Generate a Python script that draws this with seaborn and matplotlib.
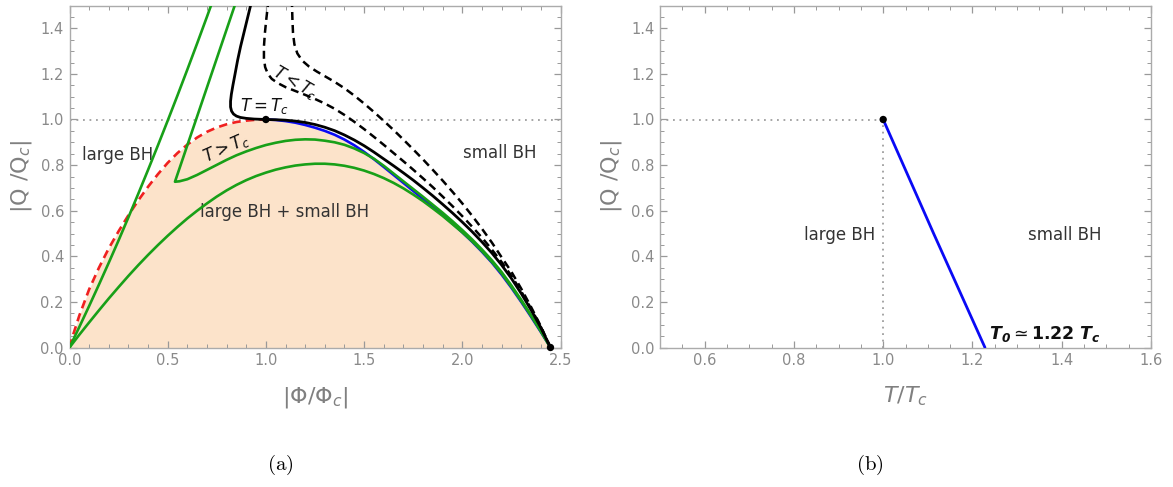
import matplotlib
matplotlib.use("Agg")
import matplotlib.pyplot as plt
from matplotlib.ticker import MultipleLocator
import seaborn as sns

# ---------------- phase diagram in the (|Phi/Phi_c|, |Q/Q_c|) plane ----------------
# spinodal boundary (red dashed), from the origin to the critical point
phi_red = [0.0, 0.02, 0.05, 0.1, 0.15, 0.2, 0.25, 0.3, 0.35, 0.4, 0.45, 0.5, 0.55,
           0.6, 0.65, 0.7, 0.75, 0.8, 0.85, 0.9, 0.95, 1.0]
q_red = [0.0, 0.06, 0.14, 0.255, 0.35, 0.435, 0.51, 0.58, 0.645, 0.705, 0.76, 0.81, 0.853,
         0.89, 0.921, 0.946, 0.965, 0.979, 0.989, 0.995, 0.999, 1.0]

# coexistence line (blue), from the critical point to Phi_0
phi_blue = [1.0, 1.05, 1.1, 1.15, 1.2, 1.25, 1.3, 1.35, 1.4, 1.45, 1.5, 1.55, 1.6, 1.65,
            1.7, 1.75, 1.8, 1.85, 1.9, 1.95, 2.0, 2.05, 2.1, 2.15, 2.2, 2.25, 2.3, 2.35,
            2.4, 2.449]
q_blue = [1.0, 0.998, 0.993, 0.986, 0.976, 0.964, 0.95, 0.933, 0.912, 0.887, 0.858, 0.826,
          0.792, 0.757, 0.722, 0.687, 0.652, 0.617, 0.581, 0.544, 0.505, 0.464, 0.42,
          0.373, 0.32, 0.262, 0.2, 0.135, 0.068, 0.0]

# critical isotherm T = T_c (black solid)
phi_tc = [0.935, 0.922, 0.905, 0.888, 0.871, 0.856, 0.843, 0.832, 0.824, 0.82, 0.82,
          0.825, 0.835, 0.85, 0.87, 0.9, 0.94, 1.0, 1.05, 1.1, 1.15, 1.2, 1.25, 1.3,
          1.35, 1.4, 1.45, 1.5, 1.55, 1.6, 1.65, 1.7, 1.75, 1.8, 1.85, 1.9, 1.95, 2.0,
          2.05, 2.1, 2.15, 2.2, 2.25, 2.3, 2.35, 2.4, 2.449]
q_tc = [1.55, 1.5, 1.44, 1.38, 1.32, 1.26, 1.2, 1.15, 1.11, 1.08, 1.055,
        1.037, 1.024, 1.015, 1.009, 1.005, 1.002, 1.0, 0.999, 0.997, 0.993, 0.987, 0.978,
        0.966, 0.951, 0.932, 0.91, 0.885, 0.857, 0.827, 0.797, 0.766, 0.734, 0.70, 0.665,
        0.628, 0.59, 0.55, 0.508, 0.463, 0.415, 0.362, 0.303, 0.237, 0.165, 0.087, 0.0]

# isotherms below T_c (black dashed)
phi_low1 = [1.015, 1.01, 1.002, 0.995, 0.99, 0.99, 0.996, 1.01, 1.03, 1.06, 1.1, 1.15,
            1.2, 1.25, 1.3, 1.35, 1.4, 1.45, 1.5, 1.55, 1.6, 1.65, 1.7, 1.75, 1.8, 1.85,
            1.9, 1.95, 2.0, 2.05, 2.1, 2.15, 2.2, 2.25, 2.3, 2.35, 2.4, 2.449]
q_low1 = [1.55, 1.5, 1.44, 1.38, 1.32, 1.27, 1.23, 1.2, 1.178, 1.16, 1.142, 1.125,
          1.108, 1.09, 1.07, 1.047, 1.02, 0.99, 0.958, 0.924, 0.889, 0.853, 0.817, 0.78,
          0.742, 0.703, 0.662, 0.62, 0.576, 0.53, 0.482, 0.43, 0.375, 0.314, 0.246, 0.171,
          0.09, 0.0]
phi_low2 = [1.131, 1.133, 1.135, 1.138, 1.145, 1.16, 1.185, 1.22, 1.26, 1.3, 1.35, 1.4,
            1.45, 1.5, 1.55, 1.6, 1.65, 1.7, 1.75, 1.8, 1.85, 1.9, 1.95, 2.0, 2.05, 2.1,
            2.15, 2.2, 2.25, 2.3, 2.35, 2.4, 2.449]
q_low2 = [1.55, 1.5, 1.44, 1.38, 1.33, 1.29, 1.258, 1.232, 1.21, 1.19, 1.165, 1.137,
          1.105, 1.07, 1.033, 0.994, 0.954, 0.912, 0.869, 0.825, 0.779, 0.732, 0.683,
          0.632, 0.578, 0.521, 0.461, 0.396, 0.332, 0.258, 0.178, 0.093, 0.0]

# isotherms above T_c (green)
phi_high_a = [0.0, 0.05, 0.1, 0.15, 0.2, 0.25, 0.3, 0.35, 0.4, 0.45, 0.5, 0.55, 0.6,
              0.65, 0.7, 0.75]
q_high_a = [0.0, 0.09, 0.182, 0.276, 0.372, 0.47, 0.571, 0.674, 0.779, 0.886, 0.995,
            1.106, 1.219, 1.334, 1.451, 1.57]

phi_high_b = [0.861, 0.537, 0.56, 0.6, 0.65, 0.7, 0.75, 0.8, 0.85, 0.9, 0.95, 1.0, 1.05,
              1.1, 1.15, 1.2, 1.25, 1.3, 1.35, 1.4, 1.45, 1.5, 1.55, 1.6, 1.65, 1.7, 1.75,
              1.8, 1.85, 1.9, 1.95, 2.0, 2.05, 2.1, 2.15, 2.2, 2.25, 2.3, 2.35, 2.4, 2.449]
q_high_b = [1.55, 0.727, 0.729, 0.738, 0.757, 0.779, 0.801, 0.823, 0.843, 0.86, 0.875,
            0.888, 0.898, 0.906, 0.911, 0.913, 0.912, 0.907, 0.9, 0.889, 0.873, 0.853,
            0.828, 0.797, 0.763, 0.729, 0.695, 0.661, 0.626, 0.591, 0.554, 0.515, 0.474,
            0.43, 0.383, 0.331, 0.272, 0.209, 0.142, 0.072, 0.0]

phi_high_c = [0.0, 0.05, 0.1, 0.15, 0.2, 0.25, 0.3, 0.35, 0.4, 0.45, 0.5, 0.55, 0.6,
              0.65, 0.7, 0.75, 0.8, 0.85, 0.9, 0.95, 1.0, 1.05, 1.1, 1.15, 1.2, 1.25,
              1.3, 1.35, 1.4, 1.45, 1.5, 1.55, 1.6, 1.65, 1.7, 1.75, 1.8, 1.85, 1.9,
              1.95, 2.0, 2.05, 2.1, 2.15, 2.2, 2.25, 2.3, 2.35, 2.4, 2.449]
q_high_c = [0.0, 0.056, 0.11, 0.163, 0.215, 0.265, 0.314, 0.361, 0.406, 0.449, 0.49,
            0.529, 0.566, 0.6, 0.632, 0.662, 0.689, 0.713, 0.734, 0.752, 0.767, 0.78,
            0.79, 0.798, 0.803, 0.806, 0.806, 0.803, 0.797, 0.788, 0.776, 0.761, 0.743,
            0.722, 0.698, 0.671, 0.642, 0.61, 0.577, 0.541, 0.505, 0.466, 0.423, 0.376,
            0.325, 0.266, 0.204, 0.139, 0.071, 0.0]

# special points: critical point and Phi_0
phi_pts = [1.0, 2.449]
q_pts = [1.0, 0.0]

# ---------------- phase diagram in the (T/T_c, |Q/Q_c|) plane ----------------
t_line = [1.0, 1.113, 1.228]
q_line = [1.0, 0.5, 0.0]
t_crit = [1.0]
q_crit = [1.0]

# ---------------- styling ----------------
sns.set_theme(style="ticks")
plt.rcParams["font.family"] = ["DejaVu Sans"]
plt.rcParams["mathtext.fontset"] = "dejavusans"

PEACH = "#FCE3CA"
GREEN = "#18A018"
BLUE = "#0A0AF5"
RED = "#F02020"
FRAME = "#ABABAB"
TICKLAB = "#8A8A8A"
AXLAB = "#808080"
TEXT = "#333333"
DOTTED = (0, (1.0, 2.6))
DASHED = (0, (3.2, 2.0))

fig = plt.figure(figsize=(11.73, 4.87), dpi=100)
axL = fig.add_axes([69.5 / 1173, 139.5 / 487, 491 / 1173, 342 / 487])
axR = fig.add_axes([660 / 1173, 139.5 / 487, 491 / 1173, 342 / 487])


def frame(ax, xlim, xmaj, xmin):
    ax.set_xlim(*xlim)
    ax.set_ylim(0, 1.5)
    ax.xaxis.set_major_locator(MultipleLocator(xmaj))
    ax.xaxis.set_minor_locator(MultipleLocator(xmin))
    ax.yaxis.set_major_locator(MultipleLocator(0.2))
    ax.yaxis.set_minor_locator(MultipleLocator(0.05))
    ax.tick_params(which="both", direction="in", top=True, right=True,
                   color="#999999", labelcolor=TICKLAB, labelsize=10.5, pad=4)
    ax.tick_params(which="major", length=5, width=0.9)
    ax.tick_params(which="minor", length=2.6, width=0.7)
    for sp in ax.spines.values():
        sp.set_color(FRAME)
        sp.set_linewidth(1.0)
    ax.set_ylabel(r"$|\mathrm{Q}\ /\mathrm{Q}_c|$", fontsize=16, color=AXLAB, labelpad=5)


def curve(ax, x, y, color, ls="-", lw=1.9, z=3):
    sns.lineplot(x=x, y=y, ax=ax, color=color, linestyle=ls, linewidth=lw,
                 sort=False, estimator=None, zorder=z)


# ---- left panel ----
frame(axL, (0, 2.5), 0.5, 0.1)
env_phi = phi_red + phi_blue[1:]
env_q = q_red + q_blue[1:]
axL.fill_between(env_phi, 0, env_q, color=PEACH, lw=0, zorder=0)
axL.axhline(1.0, color="#9E9E9E", ls=DOTTED, lw=1.3, zorder=1)

curve(axL, phi_red, q_red, RED, ls=DASHED, lw=1.9, z=3)
curve(axL, phi_high_a, q_high_a, GREEN, z=4)
curve(axL, phi_high_b, q_high_b, GREEN, z=4)
curve(axL, phi_high_c, q_high_c, GREEN, z=4)
curve(axL, phi_blue, q_blue, BLUE, z=3.5)
curve(axL, phi_tc, q_tc, "black", lw=2.0, z=5)
curve(axL, phi_low1, q_low1, "black", ls=DASHED, lw=1.8, z=5)
curve(axL, phi_low2, q_low2, "black", ls=DASHED, lw=1.8, z=5)
sns.scatterplot(x=phi_pts, y=q_pts, ax=axL, color="black", s=28, zorder=6,
                edgecolor="none", clip_on=False)

axL.text(0.245, 0.844, "large BH", fontsize=12, color=TEXT, ha="center", va="center")
axL.text(2.19, 0.852, "small BH", fontsize=12, color=TEXT, ha="center", va="center")
axL.text(1.097, 0.596, "large BH + small BH", fontsize=12, color=TEXT,
         ha="center", va="center")
axL.text(0.995, 1.06, r"$T=T_c$", fontsize=12, color="#111111", ha="center", va="center")
axL.text(1.15, 1.16, r"$T<T_c$", fontsize=12, color="#111111", ha="center",
         va="center", rotation=-30)
axL.text(0.80, 0.875, r"$T>T_c$", fontsize=12, color="#111111", ha="center",
         va="center", rotation=24)
axL.set_xlabel(r"$|\Phi/\Phi_c|$", fontsize=16, color=AXLAB, labelpad=12)

# ---- right panel ----
frame(axR, (0.5, 1.6), 0.2, 0.05)
axR.plot([0.5, 1.0], [1.0, 1.0], color="#9E9E9E", ls=DOTTED, lw=1.3, zorder=1)
axR.plot([1.0, 1.0], [0.0, 1.0], color="#9E9E9E", ls=DOTTED, lw=1.3, zorder=1)
curve(axR, t_line, q_line, BLUE, lw=2.0)
sns.scatterplot(x=t_crit, y=q_crit, ax=axR, color="black", s=28, zorder=6,
                edgecolor="none")
axR.text(0.902, 0.493, "large BH", fontsize=12, color=TEXT, ha="center", va="center")
axR.text(1.406, 0.493, "small BH", fontsize=12, color=TEXT, ha="center", va="center")
axR.text(1.238, 0.058, r"$\mathbfit{T_0} \simeq \mathbf{1.22}\ \mathbfit{T_c}$",
         fontsize=12.5, color="#111111", ha="left", va="center")
axR.set_xlabel(r"$T/T_c$", fontsize=16, color=AXLAB, labelpad=12)

# ---- panel captions ----
fig.text(280 / 1173, 1 - 465 / 487, r"$\mathrm{(a)}$", math_fontfamily="cm",
         fontsize=15, ha="center", va="center", color="black")
fig.text(870 / 1173, 1 - 465 / 487, r"$\mathrm{(b)}$", math_fontfamily="cm",
         fontsize=15, ha="center", va="center", color="black")

fig.savefig("out.png", dpi=100, facecolor="white")
